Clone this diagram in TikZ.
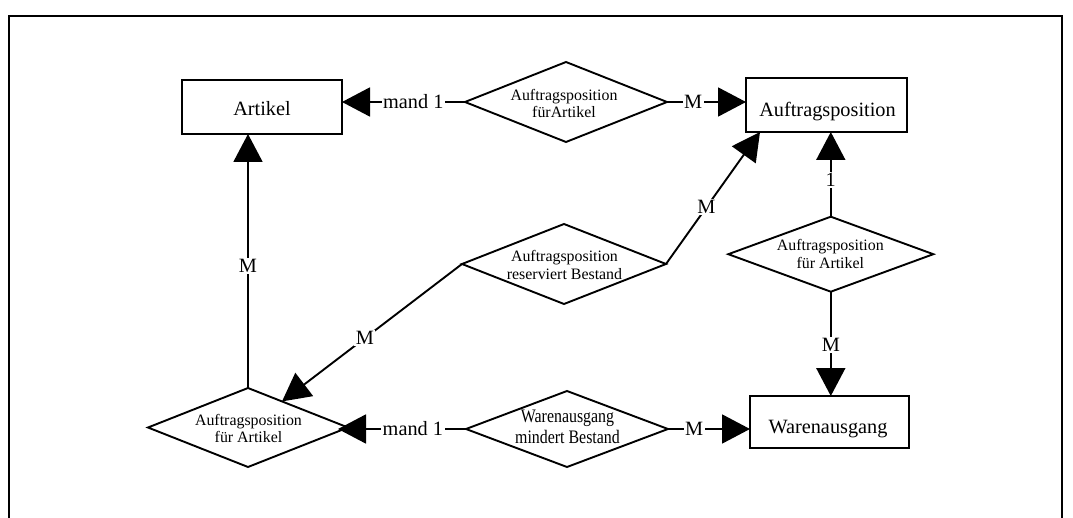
\documentclass[tikz,border=0pt]{standalone}
\usepackage{fontspec}
\usepackage{graphicx}
\setmainfont{Liberation Serif}
\usetikzlibrary{arrows.meta,shapes.geometric,calc}

% type sizes: entity names / cardinalities, and relationship names
\newcommand\entfont{\fontsize{20.3}{24}\selectfont}
\newcommand\relfont{\fontsize{15.9}{17.5}\selectfont}

\begin{document}
\begin{tikzpicture}[x=1pt,y=-1pt,
  line width=1.9pt, line join=miter,
  entity/.style={draw, rectangle, inner sep=0pt, outer sep=0pt},
  relation/.style={draw, diamond, inner sep=0pt, outer sep=0pt},
  enttext/.style={font=\entfont, anchor=base, inner sep=0pt},
  reltext/.style={font=\relfont, align=center, inner sep=0pt},
  card/.style={font=\entfont, fill=white, inner sep=1.5pt},
  arr/.style={-{Triangle[length=28pt,width=29pt]}},
]
\useasboundingbox (0,0) rectangle (1073,518);

% open frame around the model
\draw[line width=1.6pt] (9,518) -- (9,16) -- (1062,16) -- (1062,518);

% entities
\node[entity, minimum width=160pt, minimum height=54pt] (artikel) at (262,107) {};
\node[enttext] (artikel-t) at (262,116) {Artikel};
\node[entity, minimum width=161pt, minimum height=54pt] (auftrag) at (826.5,105) {};
\node[enttext] (auftrag-t) at (827.5,116.5) {Auftragsposition};
\node[entity, minimum width=159pt, minimum height=52pt] (waren) at (829.5,422) {};
\node[enttext] (waren-t) at (828,433.3) {Warenausgang};

% relationships
\node[relation, minimum width=202pt, minimum height=80pt] (r1) at (566,102) {};
\node[reltext] (r1-t) at (564,103.3) {Auftragsposition\\fürArtikel};
\node[relation, minimum width=204pt, minimum height=80pt] (r2) at (564,264) {};
\node[reltext] (r2-t) at (564.5,265) {Auftragsposition\\reserviert Bestand};
\node[relation, minimum width=205pt, minimum height=75pt] (r3) at (830.8,254.2) {};
\node[reltext] (r3-t) at (830.3,254) {Auftragsposition\\für Artikel};
\node[relation, minimum width=200pt, minimum height=79pt] (r4) at (248,427.5) {};
\node[reltext] (r4-t) at (248.5,428.3) {Auftragsposition\\für Artikel};
\node[relation, minimum width=202pt, minimum height=76pt] (r5) at (567,429) {};
\node[inner sep=0pt] (r5-t) at (567.5,429) {\scalebox{1}[1.2]{\relfont\begin{tabular}{@{}c@{}}Warenausgang\\mindert Bestand\end{tabular}}};

% connectors with cardinalities
\draw[arr] (r1.west) -- node[card,pos=.42] (c1) {mand 1} (artikel.east |- r1.west);
\draw[arr] (r1.east) -- node[card,pos=.33] (c2) {M} (auftrag.west |- r1.east);
\draw[arr] (r4.north) -- node[card,pos=.48] (c3) {M} (r4.north |- artikel.south);
\draw[arr] (r2.west) -- node[card,pos=.54] (c4) {M} ($(r4.north)!0.34!(r4.east)$);
\draw[arr] (r2.east) -- node[card,pos=.43] (c5) {M} ([xshift=14pt]auftrag.south west);
\draw[arr] (r3.north) -- node[card,pos=.43] (c6) {1} (r3.north |- auftrag.south);
\draw[arr] (r3.south) -- node[card,pos=.51] (c7) {M} (r3.south |- waren.north);
\draw[arr, shorten >=-10pt] (r5.west) -- node[card,pos=.45] (c8) {mand 1} (r4.east |- r5.west);
\draw[arr] (r5.east) -- node[card,pos=.32] (c9) {M} (r5.east -| waren.west);
\end{tikzpicture}
\end{document}
